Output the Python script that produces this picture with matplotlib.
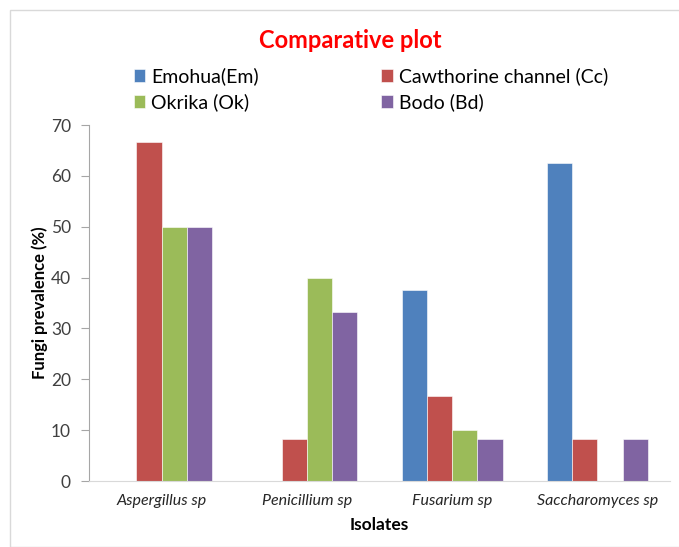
import numpy as np
import matplotlib
matplotlib.use("Agg")
import matplotlib.pyplot as plt
from matplotlib.patches import Rectangle

categories = ["Aspergillus sp", "Penicillium sp", "Fusarium sp", "Saccharomyces sp"]
series = ["Emohua(Em)", "Cawthorine channel (Cc)", "Okrika (Ok)", "Bodo (Bd)"]
emohua = [0, 0, 37.5, 62.5]
cawthorine = [66.7, 8.3, 16.7, 8.3]
okrika = [50, 40, 10, 0]
bodo = [50, 33.3, 8.3, 8.3]
colors = ["#4F81BD", "#C0504D", "#9BBB59", "#8064A2"]

plt.rcParams["font.family"] = ["Lato", "DejaVu Sans"]

fig = plt.figure(figsize=(6.79, 5.47), dpi=100)
fig.patches.append(Rectangle((10 / 679, 0), 1, 1 - 10 / 547, transform=fig.transFigure,
                             fill=False, edgecolor="#D9D9D9", linewidth=1))
ax = fig.add_axes([89 / 679, 1 - 481 / 547, 581 / 679, 356 / 547])

x = np.arange(len(categories))
w = 0.174
bars = []
for i, (vals, c) in enumerate(zip([emohua, cawthorine, okrika, bodo], colors)):
    b = ax.bar(x + (i - 1.5) * w, vals, width=w, color=c, edgecolor="white", linewidth=0.4,
               label=series[i])
    bars.append(b)

ax.set_xlim(-0.5, len(categories) - 0.5)
ax.set_ylim(0, 70)
ax.set_yticks(np.arange(0, 71, 10))
ax.set_xticks(x)
ax.set_xticklabels(categories, fontstyle="italic", fontsize=11.5, color="#262626")
ax.tick_params(axis="x", length=0, pad=9)
ax.tick_params(axis="y", labelsize=12.5, labelcolor="#404040", color="#A6A6A6", length=6, pad=7)
for s in ["top", "right"]:
    ax.spines[s].set_visible(False)
ax.spines["left"].set_color("#A6A6A6")
ax.spines["bottom"].set_color("#D9D9D9")
ax.set_ylabel("Fungi prevalence (%)", fontsize=12, fontweight="bold", labelpad=2)
ax.set_xlabel("Isolates", fontsize=12.5, fontweight="bold", labelpad=7)

fig.text(350 / 679, 1 - 40 / 547, "Comparative plot", color="#FF0000", fontsize=17,
         fontweight="bold", ha="center", va="center")

handles = [bars[0], bars[2], bars[1], bars[3]]
labels = [series[0], series[2], series[1], series[3]]
fig.legend(handles, labels, ncol=2, loc="upper left", bbox_to_anchor=(116 / 679, 1 - 50 / 547),
           frameon=False, fontsize=14, handlelength=0.6, handleheight=0.6, handletextpad=0.3,
           columnspacing=6.3, labelspacing=0.42)

fig.savefig("out.png", dpi=100)
